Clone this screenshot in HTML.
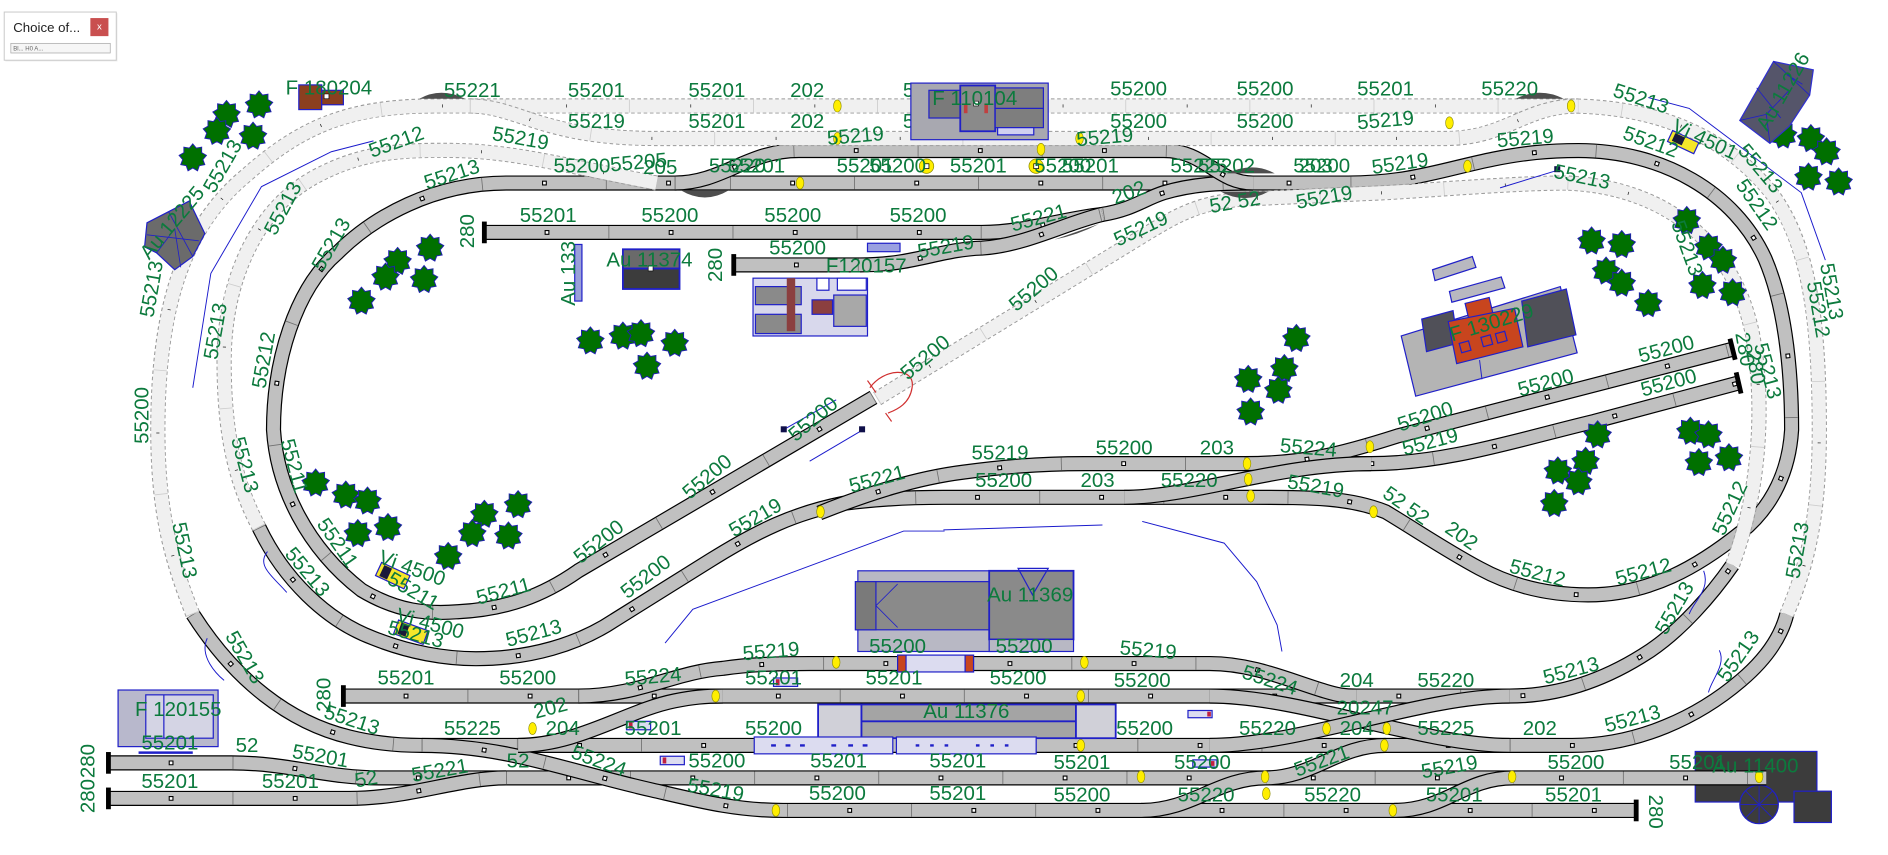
<!DOCTYPE html>
<html><head><meta charset="utf-8"><style>
html,body{margin:0;padding:0;background:#fff;width:1888px;height:855px;overflow:hidden}
svg{display:block}
.k{fill:none;stroke:#000;stroke-width:12.6}
.g{fill:none;stroke:#c0c0c0;stroke-width:10.6}
.d{fill:none;stroke:#707070;stroke-width:10.6;stroke-dasharray:0.7 102.3}
.q{fill:none;stroke:#000;stroke-width:4;stroke-dasharray:4 99;stroke-dashoffset:53}
.w{fill:none;stroke:#fff;stroke-width:2.2;stroke-dasharray:2.2 100.8;stroke-dashoffset:52.1}
.gk{fill:none;stroke:#9a9a9a;stroke-width:12.6;stroke-dasharray:3 2.2}
.gg{fill:none;stroke:#f0f0f0;stroke-width:11}
.gd{fill:none;stroke:#cdcdcd;stroke-width:11;stroke-dasharray:0.7 102.3}
.gm{fill:none;stroke:#222;stroke-width:2.6;stroke-dasharray:0.6 102.4;stroke-dashoffset:52}
.wi{fill:none;stroke:#1a1acc;stroke-width:0.8}
.bl{stroke:#2020c8;stroke-width:1}
text{font-family:"Liberation Sans",Arial,sans-serif;font-size:17px;fill:#0c7a3d;text-anchor:middle;dominant-baseline:central}
</style></head><body>
<svg width="1888" height="855" viewBox="0 0 1567 710" preserveAspectRatio="none" xmlns="http://www.w3.org/2000/svg">
<defs>
<path id="s1" d="M725,330 L480,474 C450,495 420,506 380,508 C355,510 330,508 300,490 C255,455 230,405 227,357 C227,300 245,240 280,210 C310,180 360,152 420,152 L1119,152 C1170,152 1200,140 1240,132 C1265,127 1285,125 1310,125 C1380,125 1440,160 1465,215 C1480,250 1487,300 1487,357 C1485,390 1472,420 1445,442 C1410,470 1370,494 1318,494 C1280,494 1250,484 1228,472 C1200,457 1175,440 1150,425 C1120,413 1090,413 1038,413 L783,413 C760,413 730,414 700,418 C660,426 630,440 590,465 L510,515 C480,535 440,547 395,547 C370,547 340,542 310,530 C270,515 235,480 215,438"/>
<path id="m1" d="M680,426 C720,410 760,397 800,392 C830,388 860,385 900,385 L1138,385 C1200,385 1260,365 1323,350 L1443,318"/>
<path id="r1" d="M1033,385 C1080,385 1110,378 1160,362 L1438,290"/>
<path id="mx" d="M933,413 C990,413 1060,385 1138,385"/>
<path id="t0" d="M560,152 C600,152 620,125 663,125 L966,125 C1000,125 1010,152 1040,152"/>
<path id="t2" d="M402,193 L815,193 C850,193 880,182 915,178 C940,174 950,165 966,160 C990,153 1010,152 1040,152"/>
<path id="t3" d="M609,220 L714,220 C760,220 780,207 815,206 C850,204 885,185 915,178"/>
<path id="b3" d="M160,510 C195,565 240,600 290,612 C310,617 330,619 350,619 L1305,619 C1360,619 1410,595 1445,565 C1465,548 1478,530 1483,510"/>
<path id="b2" d="M285,578 L1253,578 C1300,578 1340,560 1370,540 C1395,523 1420,495 1438,469"/>
<path id="b4" d="M420,646 L1466,646"/>
<path id="l1" d="M90,633.5 L192,633.5 C240,633.5 270,646 315,646 L420,646"/>
<path id="l2" d="M90,663 L290,663 C340,663 380,646 420,646"/>
<path id="b5" d="M350,619 C420,619 470,640 541,656 C580,665 610,673 650,673 L1358,673"/>
<path id="b1" d="M480,578 C530,578 560,558 600,555 C620,552 640,551 672,551 L1004,551 C1040,551 1070,565 1100,574 C1110,577 1115,578 1126,578"/>
<path id="x2" d="M430,619 C480,619 520,590 560,582 C575,579 585,578 600,578"/>
<path id="c1" d="M1004,578 C1080,578 1180,619 1253,619"/>
<path id="c2" d="M1004,619 C1080,619 1180,578 1253,578"/>
<path id="c3" d="M1150,619 C1110,619 1090,646 1050,646"/>
<path id="c4" d="M947,673 C990,673 1010,646 1051,646"/>
<path id="c5" d="M1157,673 C1200,673 1215,646 1256,646"/>
<path id="ga" d="M160,510 C140,460 131,420 131,357 C131,260 150,190 205,145 C250,105 290,88 360,88 L1301,88 C1370,88 1430,110 1470,160 C1500,200 1510,260 1510,357 C1510,430 1500,470 1483,510"/>
<path id="gb" d="M390,88 C430,88 450,115 545,115 L1200,115 C1250,115 1265,88 1310,88"/>
<path id="gc" d="M215,438 C195,400 186,360 186,300 C186,230 215,170 265,145 C300,127 330,124 380,125 C430,126 480,140 545,152"/>
<path id="gdp" d="M728,331 L950,195 C975,180 995,167 1037,165 L1150,160 C1200,157 1260,152 1300,152 C1380,155 1440,200 1455,280 C1465,340 1460,410 1438,469"/>
<polygon id="tr" points="0,-11.5 2.91,-7.99 7.39,-8.81 7.36,-4.25 11.33,-2 8.37,1.48 9.96,5.75 5.46,6.51 3.93,10.81 0,8.5 -3.93,10.81 -5.46,6.51 -9.96,5.75 -8.37,1.48 -11.33,-2 -7.36,-4.25 -7.39,-8.81 -2.91,-7.99" fill="#007000" stroke="#1f1fb0" stroke-width="0.8"/>
<ellipse id="yd" cx="0" cy="0" rx="3.2" ry="5" fill="#ffee00" stroke="#8a8a00" stroke-width="0.5"/>
</defs>

<!-- Au 11400 (under tracks) -->
<g class="bl" fill="#3c3c3c">
<rect x="1407" y="624" width="101" height="42"/>
<rect x="1489" y="657" width="31" height="26"/>
<circle cx="1460" cy="668" r="16"/>
<path d="M1460,652 L1460,684 M1444,668 L1476,668 M1449,657 L1471,679 M1471,657 L1449,679" fill="none" stroke-width="0.7"/>
</g>

<!-- solid tracks -->
<g>
<use href="#s1" class="k"/><use href="#s1" class="g"/><use href="#s1" class="d"/><use href="#s1" class="q"/><use href="#s1" class="w"/>
<use href="#m1" class="k"/><use href="#m1" class="g"/><use href="#m1" class="d"/><use href="#m1" class="q"/><use href="#m1" class="w"/>
<use href="#r1" class="k"/><use href="#r1" class="g"/><use href="#r1" class="d"/><use href="#r1" class="q"/><use href="#r1" class="w"/>
<use href="#mx" class="k"/><use href="#mx" class="g"/>
<use href="#t2" class="k"/><use href="#t2" class="g"/><use href="#t2" class="d"/><use href="#t2" class="q"/><use href="#t2" class="w"/>
<use href="#t3" class="k"/><use href="#t3" class="g"/><use href="#t3" class="d"/><use href="#t3" class="q"/><use href="#t3" class="w"/>
<use href="#t0" class="k"/><use href="#t0" class="g"/><use href="#t0" class="d"/><use href="#t0" class="q"/><use href="#t0" class="w"/>
<use href="#b3" class="k"/><use href="#b3" class="g"/><use href="#b3" class="d"/><use href="#b3" class="q"/><use href="#b3" class="w"/>
<use href="#b2" class="k"/><use href="#b2" class="g"/><use href="#b2" class="d"/><use href="#b2" class="q"/><use href="#b2" class="w"/>
<use href="#b4" class="k"/><use href="#b4" class="g"/><use href="#b4" class="d"/><use href="#b4" class="q"/><use href="#b4" class="w"/>
<use href="#l1" class="k"/><use href="#l1" class="g"/><use href="#l1" class="d"/><use href="#l1" class="q"/><use href="#l1" class="w"/>
<use href="#l2" class="k"/><use href="#l2" class="g"/><use href="#l2" class="d"/><use href="#l2" class="q"/><use href="#l2" class="w"/>
<use href="#b5" class="k"/><use href="#b5" class="g"/><use href="#b5" class="d"/><use href="#b5" class="q"/><use href="#b5" class="w"/>
<use href="#b1" class="k"/><use href="#b1" class="g"/><use href="#b1" class="d"/><use href="#b1" class="q"/><use href="#b1" class="w"/>
<use href="#x2" class="k"/><use href="#x2" class="g"/>
<use href="#c1" class="k"/><use href="#c1" class="g"/>
<use href="#c2" class="k"/><use href="#c2" class="g"/>
<use href="#c3" class="k"/><use href="#c3" class="g"/>
<use href="#c4" class="k"/><use href="#c4" class="g"/>
<use href="#c5" class="k"/><use href="#c5" class="g"/>
</g>

<!-- ghost (upper level) tracks -->
<g>
<use href="#ga" class="gk"/><use href="#ga" class="gg"/><use href="#ga" class="gd"/><use href="#ga" class="gm"/>
<use href="#gb" class="gk"/><use href="#gb" class="gg"/><use href="#gb" class="gd"/><use href="#gb" class="gm"/>
<use href="#gc" class="gk"/><use href="#gc" class="gg"/><use href="#gc" class="gd"/><use href="#gc" class="gm"/>
<use href="#gdp" class="gk"/><use href="#gdp" class="gg"/><use href="#gdp" class="gd"/><use href="#gdp" class="gm"/>
</g>

<!-- bumpers -->
<g fill="#000">
<rect x="400" y="184" width="4" height="18"/>
<rect x="607" y="211" width="4" height="18"/>
<rect x="283" y="569" width="4" height="18"/>
<rect x="88" y="624.5" width="4" height="18"/>
<rect x="88" y="654" width="4" height="18"/>
<rect x="1356" y="664" width="4" height="18"/>
<rect x="1436" y="281" width="4" height="18" transform="rotate(-14 1438 290)"/>
<rect x="1441" y="309" width="4" height="18" transform="rotate(-13 1443 318)"/>
</g>

<!-- turnout motors -->
<g fill="#4e4e4e">
<path d="M348,82 Q366,72 386,82 Z"/>
<path d="M565,158 Q585,170 605,158 Z"/>
<path d="M1258,82 Q1278,72 1298,82 Z"/>
<path d="M1018,144 Q1040,134 1058,144 Z"/>
<path d="M1013,159 Q1033,170 1053,159 Z"/>
<path d="M875,199 Q895,195 912,186 Z"/>
</g>

<!-- yellow dots -->
<g>
<use href="#yd" x="695" y="88"/><use href="#yd" x="695" y="115"/><use href="#yd" x="664" y="152"/>
<use href="#yd" x="864" y="124"/><use href="#yd" x="896" y="115"/><use href="#yd" x="1203" y="102"/>
<use href="#yd" x="1304" y="88"/><use href="#yd" x="1218" y="138"/>
<use href="#yd" x="1035" y="385"/><use href="#yd" x="1036" y="398"/><use href="#yd" x="1038" y="412"/>
<use href="#yd" x="1137" y="371"/><use href="#yd" x="1140" y="425"/><use href="#yd" x="681" y="425"/>
<use href="#yd" x="694" y="550"/><use href="#yd" x="900" y="550"/><use href="#yd" x="594" y="578"/>
<use href="#yd" x="897" y="578"/><use href="#yd" x="442" y="605"/><use href="#yd" x="897" y="619"/>
<use href="#yd" x="644" y="673"/><use href="#yd" x="1101" y="605"/><use href="#yd" x="1151" y="605"/>
<use href="#yd" x="1149" y="619"/><use href="#yd" x="947" y="645"/><use href="#yd" x="1050" y="645"/>
<use href="#yd" x="1051" y="659"/><use href="#yd" x="1156" y="673"/><use href="#yd" x="1255" y="645"/>
<use href="#yd" x="1460" y="645"/>
<circle cx="769" cy="138" r="6" fill="#ffee00" stroke="#8a8a00" stroke-width="0.6"/><rect x="767" y="136" width="4" height="4" fill="#fff" stroke="#000" stroke-width="0.6"/>
<circle cx="860" cy="138" r="6" fill="#ffee00" stroke="#8a8a00" stroke-width="0.6"/><rect x="858" y="136" width="4" height="4" fill="#fff" stroke="#000" stroke-width="0.6"/>
</g>

<!-- labels hidden by F 110104 -->
<text x="773" y="75">55201</text>
<text x="773" y="101">55201</text>

<!-- buildings -->
<g class="bl">
<!-- F 180204 -->
<rect x="248" y="70.5" width="19" height="20.5" fill="#8b3f1f"/>
<rect x="267" y="75" width="18" height="12" fill="#8b3f1f"/>
<rect x="269" y="78" width="4" height="4" fill="#fff" stroke="#000" stroke-width="0.5"/>
<!-- Au 12225 -->
<polygon points="122,185 157,167 170,194 160,213 145,224 130,210 120,205" fill="#6b6b6b"/>
<path d="M140,176 L160,213 M122,195 L165,200 M145,190 L130,210 M145,190 L150,222" fill="none" stroke-width="0.7"/>
<!-- Au 11374 -->
<rect x="517" y="207" width="47" height="16" fill="#6a6a6a" stroke-width="1.5"/>
<rect x="517" y="223" width="47" height="17" fill="#3c3c3c" stroke-width="1.5"/>
<rect x="538" y="221" width="4" height="4" fill="#fff" stroke="#000" stroke-width="0.5"/>
<!-- Au 133 -->
<rect x="477" y="203" width="6" height="47" fill="#9aa0d8"/>
<!-- F120157 -->
<rect x="625" y="231" width="95" height="48" fill="#d8d8ec"/>
<rect x="627" y="238" width="38" height="15" fill="#8a8a8a"/>
<rect x="627" y="261" width="38" height="16" fill="#8a8a8a"/>
<rect x="653" y="231" width="7" height="44" fill="#8b3f3f" stroke="none"/>
<rect x="674" y="249" width="17" height="12" fill="#8b3f3f"/>
<rect x="692" y="245" width="27" height="26" fill="#a8a8a8"/>
<rect x="678" y="231" width="10" height="10" fill="#fff"/>
<rect x="695" y="231" width="24" height="10" fill="#fff"/>
<!-- F 110104 -->
<rect x="756" y="69" width="114" height="47" fill="#a8a8b0"/>
<rect x="771" y="75" width="26" height="23" fill="#7a7a7a"/>
<rect x="797" y="71" width="29" height="38" fill="#8a8a8a" stroke-width="1.5"/>
<rect x="800" y="86" width="3" height="8" fill="#c04040" stroke="none"/>
<rect x="817" y="86" width="3" height="8" fill="#c04040" stroke="none"/>
<rect x="826" y="73" width="40" height="33" fill="#7e7e7e"/>
<line x1="826" y1="90" x2="866" y2="90"/>
<rect x="828" y="106" width="30" height="6" fill="#d0d0f0"/>
<rect x="808" y="84" width="4" height="4" fill="#fff" stroke="#000" stroke-width="0.5"/>
<!-- Au 11226 -->
<use href="#tr" x="1480" y="112"/>
<polygon points="1444,100 1472,51 1505,58 1502,79 1485,105 1469,119" fill="#55556a" stroke="#3030d0"/>
<path d="M1444,100 L1466,95 L1469,119 M1466,95 L1485,75 M1472,51 L1502,79 M1458,73 L1478,98 M1483,62 L1496,70" fill="none" stroke-width="0.7"/>
<!-- F 130229 -->
<polygon points="1189,224 1222,213 1225,222 1191,233" fill="#b8b8c0"/>
<polygon points="1203,242 1246,230 1249,239 1205,251" fill="#b8b8c0"/>
<polygon points="1163,279 1295,238 1309,293 1175,329" fill="#b4b4b4"/>
<line x1="1228" y1="299" x2="1230" y2="315" stroke-width="0.8"/>
<polygon points="1180,265 1206,258 1210,285 1184,292" fill="#505058"/>
<polygon points="1263,250 1300,240 1308,278 1268,288" fill="#505058"/>
<polygon points="1216,252 1236,247 1240,264 1220,269" fill="#c8451e"/>
<polygon points="1202,267 1257,256 1264,288 1209,302" fill="#c8451e"/>
<rect x="1212" y="284" width="8" height="8" fill="none" transform="rotate(-15 1216 288)"/>
<rect x="1230" y="279" width="8" height="8" fill="none" transform="rotate(-15 1234 283)"/>
<rect x="1242" y="276" width="8" height="8" fill="none" transform="rotate(-15 1246 280)"/>
<!-- Au 11369 -->
<rect x="712" y="474" width="114" height="67" fill="#b8b8c4"/>
<rect x="710" y="483" width="116" height="40" fill="#8a8a8a"/>
<rect x="710" y="483" width="17" height="40" fill="#7a7a7a"/>
<path d="M727,503 L745,485 M727,503 L745,521" fill="none" stroke-width="0.7"/>
<rect x="821" y="474" width="70" height="57" fill="#8a8a8a" stroke-width="1.5"/>
<rect x="821" y="531" width="70" height="10" fill="#b8b8c4"/>
<polygon points="845,472 870,472 857,494" fill="none"/>
<!-- red car on B1 -->
<rect x="745" y="544" width="63" height="14" fill="#dcdcf0"/>
<rect x="745" y="544" width="7" height="14" fill="#c8451e"/>
<rect x="801" y="544" width="7" height="14" fill="#c8451e"/>
<!-- Au 11376 platform -->
<rect x="679" y="585" width="36" height="28" fill="#d0d0d8" stroke-width="1.5"/>
<rect x="715" y="585" width="178" height="28" fill="#a4a4a4" stroke-width="1.5"/>
<line x1="715" y1="599" x2="893" y2="599" stroke-width="1.5"/>
<rect x="893" y="585" width="33" height="28" fill="#d0d0d8" stroke-width="1.5"/>
<rect x="626" y="612" width="115" height="14" fill="#dcdcf0"/>
<rect x="744" y="612" width="116" height="14" fill="#dcdcf0"/>
<path d="M640,619 h4 M652,619 h4 M664,619 h4 M690,619 h4 M704,619 h4 M716,619 h4 M760,619 h3 M772,619 h3 M784,619 h3 M810,619 h3 M822,619 h3 M834,619 h3" stroke-width="2"/>
<!-- F 120155 -->
<rect x="98" y="573" width="83" height="47" fill="#b8b8cc"/>
<rect x="121" y="577" width="56" height="36" fill="#d4d4e4"/>
<line x1="136" y1="577" x2="136" y2="613"/>
<line x1="115" y1="625" x2="160" y2="625" stroke-width="2"/>
<!-- small cars -->
<rect x="642" y="563" width="20" height="7" fill="#dcdcf0"/>
<rect x="520" y="599" width="20" height="7" fill="#dcdcf0"/>
<rect x="548" y="628" width="20" height="7" fill="#dcdcf0"/>
<rect x="986" y="590" width="20" height="6" fill="#dcdcf0"/>
<rect x="990" y="631" width="20" height="6" fill="#dcdcf0"/>
<rect x="720" y="202" width="27" height="7" fill="#9aa0e0"/>
</g>
<g stroke="none">
<rect x="644" y="564" width="3" height="5" fill="#c02040"/><rect x="522" y="600" width="3" height="5" fill="#c02040"/>
<rect x="550" y="629" width="3" height="5" fill="#c02040"/><rect x="1002" y="591" width="3" height="4" fill="#c02040"/>
<rect x="1005" y="632" width="3" height="4" fill="#c02040"/>
</g>
<!-- vehicles (yellow) -->
<g class="bl">
<rect x="1385" y="113" width="24" height="10" fill="#f5e62a" transform="rotate(25 1397 118)"/>
<rect x="1388" y="114" width="9" height="7" fill="#1a1a3a" stroke="none" transform="rotate(25 1397 118)"/>
<rect x="313" y="472" width="26" height="12" fill="#f5e62a" transform="rotate(25 326 478)"/>
<rect x="316" y="473" width="7" height="10" fill="#1a1a3a" stroke="none" transform="rotate(25 326 478)"/>
<rect x="328" y="519" width="26" height="12" fill="#f5e62a" transform="rotate(20 341 525)"/>
<rect x="331" y="520" width="7" height="10" fill="#1a1a3a" stroke="none" transform="rotate(20 341 525)"/>
</g>

<!-- trees -->
<g>
<use href="#tr" x="215" y="87"/><use href="#tr" x="188" y="95"/><use href="#tr" x="180" y="109"/><use href="#tr" x="210" y="113"/><use href="#tr" x="160" y="131"/>
<use href="#tr" x="357" y="206"/><use href="#tr" x="330" y="217"/><use href="#tr" x="320" y="230"/><use href="#tr" x="352" y="232"/><use href="#tr" x="300" y="250"/>
<use href="#tr" x="490" y="283"/><use href="#tr" x="517" y="279"/><use href="#tr" x="532" y="277"/><use href="#tr" x="560" y="285"/><use href="#tr" x="537" y="304"/>
<use href="#tr" x="262" y="401"/><use href="#tr" x="287" y="411"/><use href="#tr" x="305" y="416"/><use href="#tr" x="297" y="443"/><use href="#tr" x="322" y="438"/>
<use href="#tr" x="430" y="419"/><use href="#tr" x="402" y="427"/><use href="#tr" x="392" y="443"/><use href="#tr" x="422" y="445"/><use href="#tr" x="372" y="462"/>
<use href="#tr" x="1076" y="281"/><use href="#tr" x="1066" y="306"/><use href="#tr" x="1036" y="315"/><use href="#tr" x="1061" y="324"/><use href="#tr" x="1038" y="342"/>
<use href="#tr" x="1400" y="183"/><use href="#tr" x="1321" y="200"/><use href="#tr" x="1346" y="203"/><use href="#tr" x="1418" y="205"/><use href="#tr" x="1430" y="216"/>
<use href="#tr" x="1333" y="225"/><use href="#tr" x="1346" y="235"/><use href="#tr" x="1413" y="237"/><use href="#tr" x="1438" y="243"/><use href="#tr" x="1368" y="252"/>
<use href="#tr" x="1326" y="361"/><use href="#tr" x="1403" y="358"/><use href="#tr" x="1418" y="361"/><use href="#tr" x="1410" y="384"/><use href="#tr" x="1435" y="380"/>
<use href="#tr" x="1316" y="383"/><use href="#tr" x="1293" y="391"/><use href="#tr" x="1310" y="400"/><use href="#tr" x="1290" y="418"/>
<use href="#tr" x="1503" y="115"/><use href="#tr" x="1516" y="126"/><use href="#tr" x="1501" y="147"/><use href="#tr" x="1526" y="151"/>
</g>

<!-- wires -->
<g class="wi">
<polyline points="310,117 275,126 217,155 175,227 160,322"/>
<polyline points="1368,81 1402,90 1495,160 1515,216"/>
<polyline points="1245,156 1294,141"/>
<polyline points="783,440 915,436"/>
<polyline points="948,433 1016,451 1043,483 1060,519 1064,541"/>
<polyline points="784,441 750,441 575,506 552,534"/>
<polyline points="650,357 694,332"/>
<polyline points="672,383 716,357"/>
<path d="M222,458 C212,470 228,480 238,492"/>
<path d="M172,530 C165,545 180,560 186,565"/>
<path d="M1414,474 C1420,490 1405,500 1402,510"/>
<path d="M1427,540 C1433,552 1420,565 1418,575"/>
</g>
<g fill="#10104a"><rect x="648" y="354" width="5" height="5"/><rect x="713" y="354" width="5" height="5"/><rect x="1290" y="138" width="5" height="5"/></g>
<path d="M722,322 C733,306 760,304 757,322 C755,335 745,340 737,343 M720,316 L727,326 M735,343 L740,350" fill="none" stroke="#d03030" stroke-width="1"/>

<!-- labels -->
<g>
<text x="273" y="73">F 180204</text>
<text x="392" y="75">55221</text>
<text x="495" y="75">55201</text>
<text x="595" y="75">55201</text>
<text x="670" y="75">202</text>
<text x="945" y="74">55200</text>
<text x="1050" y="74">55200</text>
<text x="1150" y="74">55201</text>
<text x="1253" y="74">55220</text>
<text x="495" y="101">55219</text>
<text x="595" y="101">55201</text>
<text x="670" y="101">202</text>
<text x="945" y="101">55200</text>
<text x="1050" y="101">55200</text>
<text x="1150" y="100" transform="rotate(-5 1150 100)">55219</text>
<text x="710" y="113" transform="rotate(-5 710 113)">55219</text>
<text x="917" y="114" transform="rotate(-5 917 114)">55219</text>
<text x="809" y="82">F 110104</text>
<text x="1362" y="82" transform="rotate(18 1362 82)">55213</text>
<text x="1370" y="118" transform="rotate(20 1370 118)">55212</text>
<text x="1415" y="116" transform="rotate(25 1415 116)">Vi 4501</text>
<text x="1461" y="140" transform="rotate(50 1461 140)">55213</text>
<text x="1458" y="170" transform="rotate(55 1458 170)">55212</text>
<text x="1480" y="76" transform="rotate(-60 1480 76)">Au 11226</text>
<text x="1520" y="242" transform="rotate(80 1520 242)">55213</text>
<text x="1509" y="257" transform="rotate(80 1509 257)">55212</text>
<text x="1313" y="147" transform="rotate(12 1313 147)">55213</text>
<text x="1266" y="115" transform="rotate(-5 1266 115)">55219</text>
<text x="1162" y="136" transform="rotate(-8 1162 136)">55219</text>
<text x="1097" y="138">55200</text>
<text x="1092" y="138">203</text>
<text x="995" y="138">55225</text>
<text x="1018" y="138">55202</text>
<text x="882" y="138">55200</text>
<text x="905" y="138">55201</text>
<text x="812" y="138">55201</text>
<text x="718" y="138">55201</text>
<text x="745" y="138">55200</text>
<text x="612" y="138">55220</text>
<text x="628" y="138">55201</text>
<text x="483" y="138">55200</text>
<text x="530" y="135" transform="rotate(-5 530 135)">55205</text>
<text x="548" y="139">205</text>
<text x="329" y="118" transform="rotate(-20 329 118)">55212</text>
<text x="432" y="115" transform="rotate(10 432 115)">55219</text>
<text x="375" y="145" transform="rotate(-18 375 145)">55213</text>
<text x="185" y="138" transform="rotate(-60 185 138)">55213</text>
<text x="143" y="185" transform="rotate(-50 143 185)">Au 12225</text>
<text x="235" y="173" transform="rotate(-62 235 173)">55213</text>
<text x="275" y="203" transform="rotate(-60 275 203)">55213</text>
<text x="126" y="240" transform="rotate(-80 126 240)">55213</text>
<text x="179" y="275" transform="rotate(-80 179 275)">55213</text>
<text x="219" y="299" transform="rotate(-80 219 299)">55212</text>
<text x="118" y="345" transform="rotate(-90 118 345)">55200</text>
<text x="455" y="179">55201</text>
<text x="556" y="179">55200</text>
<text x="658" y="179">55200</text>
<text x="762" y="179">55200</text>
<text x="662" y="206">55200</text>
<text x="785" y="205" transform="rotate(-10 785 205)">55219</text>
<text x="719" y="221">F120157</text>
<text x="539" y="216">Au 11374</text>
<text x="388" y="192" transform="rotate(-90 388 192)">280</text>
<text x="594" y="220" transform="rotate(-90 594 220)">280</text>
<text x="472" y="227" transform="rotate(-90 472 227)">Au 133</text>
<text x="862" y="181" transform="rotate(-15 862 181)">55221</text>
<text x="937" y="160" transform="rotate(-20 937 160)">202</text>
<text x="947" y="190" transform="rotate(-25 947 190)">55219</text>
<text x="1025" y="168" transform="rotate(-10 1025 168)">52 52</text>
<text x="1099" y="164" transform="rotate(-10 1099 164)">55219</text>
<text x="858" y="240" transform="rotate(-40 858 240)">55200</text>
<text x="768" y="297" transform="rotate(-40 768 297)">55200</text>
<text x="675" y="348" transform="rotate(-40 675 348)">55200</text>
<text x="1400" y="206" transform="rotate(70 1400 206)">55213</text>
<text x="1238" y="268" transform="rotate(-17 1238 268)">F 130229</text>
<text x="203" y="386" transform="rotate(75 203 386)">55213</text>
<text x="244" y="387" transform="rotate(75 244 387)">55211</text>
<text x="153" y="457" transform="rotate(78 153 457)">55213</text>
<text x="280" y="451" transform="rotate(55 280 451)">55211</text>
<text x="255" y="475" transform="rotate(50 255 475)">55213</text>
<text x="342" y="472" transform="rotate(20 342 472)">Vi 4500</text>
<text x="343" y="491" transform="rotate(30 343 491)">55211</text>
<text x="357" y="518" transform="rotate(15 357 518)">Vi 4500</text>
<text x="345" y="527" transform="rotate(15 345 527)">55213</text>
<text x="418" y="491" transform="rotate(-15 418 491)">55211</text>
<text x="443" y="526" transform="rotate(-15 443 526)">55213</text>
<text x="497" y="450" transform="rotate(-38 497 450)">55200</text>
<text x="536" y="479" transform="rotate(-38 536 479)">55200</text>
<text x="587" y="396" transform="rotate(-40 587 396)">55200</text>
<text x="627" y="430" transform="rotate(-30 627 430)">55219</text>
<text x="728" y="398" transform="rotate(-15 728 398)">55221</text>
<text x="203" y="546" transform="rotate(60 203 546)">55213</text>
<text x="292" y="598" transform="rotate(18 292 598)">55213</text>
<text x="269" y="577" transform="rotate(-90 269 577)">280</text>
<text x="148" y="589">F 120155</text>
<text x="141" y="617">55201</text>
<text x="205" y="619">52</text>
<text x="266" y="628" transform="rotate(10 266 628)">55201</text>
<text x="141" y="649">55201</text>
<text x="241" y="649">55201</text>
<text x="304" y="647" transform="rotate(-10 304 647)">52</text>
<text x="365" y="640" transform="rotate(-10 365 640)">55221</text>
<text x="430" y="632">52</text>
<text x="73" y="632" transform="rotate(-90 73 632)">280</text>
<text x="73" y="661" transform="rotate(-90 73 661)">280</text>
<text x="830" y="376">55219</text>
<text x="933" y="372">55200</text>
<text x="1010" y="372">203</text>
<text x="1086" y="372" transform="rotate(5 1086 372)">55224</text>
<text x="1187" y="367" transform="rotate(-15 1187 367)">55219</text>
<text x="1183" y="346" transform="rotate(-18 1183 346)">55200</text>
<text x="1283" y="318" transform="rotate(-15 1283 318)">55200</text>
<text x="1383" y="290" transform="rotate(-15 1383 290)">55200</text>
<text x="1385" y="318" transform="rotate(-15 1385 318)">55200</text>
<text x="1448" y="290" transform="rotate(80 1448 290)">280</text>
<text x="1457" y="305" transform="rotate(80 1457 305)">280</text>
<text x="1467" y="308" transform="rotate(75 1467 308)">55213</text>
<text x="833" y="399">55200</text>
<text x="911" y="399">203</text>
<text x="987" y="399">55220</text>
<text x="1092" y="404" transform="rotate(10 1092 404)">55219</text>
<text x="1167" y="420" transform="rotate(35 1167 420)">52 52</text>
<text x="1213" y="445" transform="rotate(35 1213 445)">202</text>
<text x="1276" y="476" transform="rotate(15 1276 476)">55212</text>
<text x="1364" y="475" transform="rotate(-15 1364 475)">55212</text>
<text x="1390" y="505" transform="rotate(-60 1390 505)">55213</text>
<text x="1436" y="422" transform="rotate(-65 1436 422)">55212</text>
<text x="1492" y="457" transform="rotate(-80 1492 457)">55213</text>
<text x="1443" y="545" transform="rotate(-55 1443 545)">55213</text>
<text x="1304" y="557" transform="rotate(-15 1304 557)">55213</text>
<text x="1355" y="597" transform="rotate(-15 1355 597)">55213</text>
<text x="855" y="494">Au 11369</text>
<text x="640" y="541" transform="rotate(-5 640 541)">55219</text>
<text x="745" y="537">55200</text>
<text x="850" y="537">55200</text>
<text x="953" y="540" transform="rotate(5 953 540)">55219</text>
<text x="337" y="563">55201</text>
<text x="438" y="563">55200</text>
<text x="542" y="562" transform="rotate(-5 542 562)">55224</text>
<text x="642" y="563">55201</text>
<text x="742" y="563">55201</text>
<text x="845" y="563">55200</text>
<text x="948" y="565">55200</text>
<text x="1054" y="565" transform="rotate(18 1054 565)">55224</text>
<text x="1126" y="565">204</text>
<text x="1200" y="565">55220</text>
<text x="392" y="605">55225</text>
<text x="457" y="588" transform="rotate(-15 457 588)">202</text>
<text x="467" y="605">204</text>
<text x="542" y="605">55201</text>
<text x="642" y="605">55200</text>
<text x="802" y="591">Au 11376</text>
<text x="950" y="605">55200</text>
<text x="1052" y="605">55220</text>
<text x="1126" y="605">204</text>
<text x="1133" y="588">20247</text>
<text x="1200" y="605">55225</text>
<text x="1278" y="605">202</text>
<text x="497" y="632" transform="rotate(20 497 632)">55224</text>
<text x="595" y="632">55200</text>
<text x="696" y="632">55201</text>
<text x="795" y="632">55201</text>
<text x="898" y="633">55201</text>
<text x="998" y="633">55200</text>
<text x="1097" y="632" transform="rotate(-20 1097 632)">55221</text>
<text x="1203" y="637" transform="rotate(-10 1203 637)">55219</text>
<text x="1308" y="633">55200</text>
<text x="1409" y="633">55201</text>
<text x="1457" y="636">Au 11400</text>
<text x="594" y="656" transform="rotate(10 594 656)">55219</text>
<text x="695" y="659">55200</text>
<text x="795" y="659">55201</text>
<text x="898" y="660">55200</text>
<text x="1001" y="660">55220</text>
<text x="1106" y="660">55220</text>
<text x="1207" y="660">55201</text>
<text x="1306" y="660">55201</text>
<text x="1374" y="674" transform="rotate(90 1374 674)">280</text>
</g>

<!-- Choice of... window -->
<g>
<rect x="4.5" y="11" width="93" height="40" fill="#000" opacity="0.08"/>
<rect x="3.5" y="10" width="93" height="40" fill="#fff" stroke="#c8c8c8" stroke-width="0.8"/>
<text x="11" y="23" style="font-size:11px;fill:#222;text-anchor:start">Choice of...</text>
<rect x="75" y="15" width="15" height="15" fill="#c94f4f"/>
<text x="82.5" y="22.5" style="font-size:8px;fill:#fff">x</text>
<rect x="9" y="36" width="82.5" height="8" fill="#f6f6f6" stroke="#a8a8a8" stroke-width="0.6"/>
<text x="11" y="41" style="font-size:5px;fill:#666;text-anchor:start">Bl... H0 A...</text>
</g>
</svg>
</body></html>
